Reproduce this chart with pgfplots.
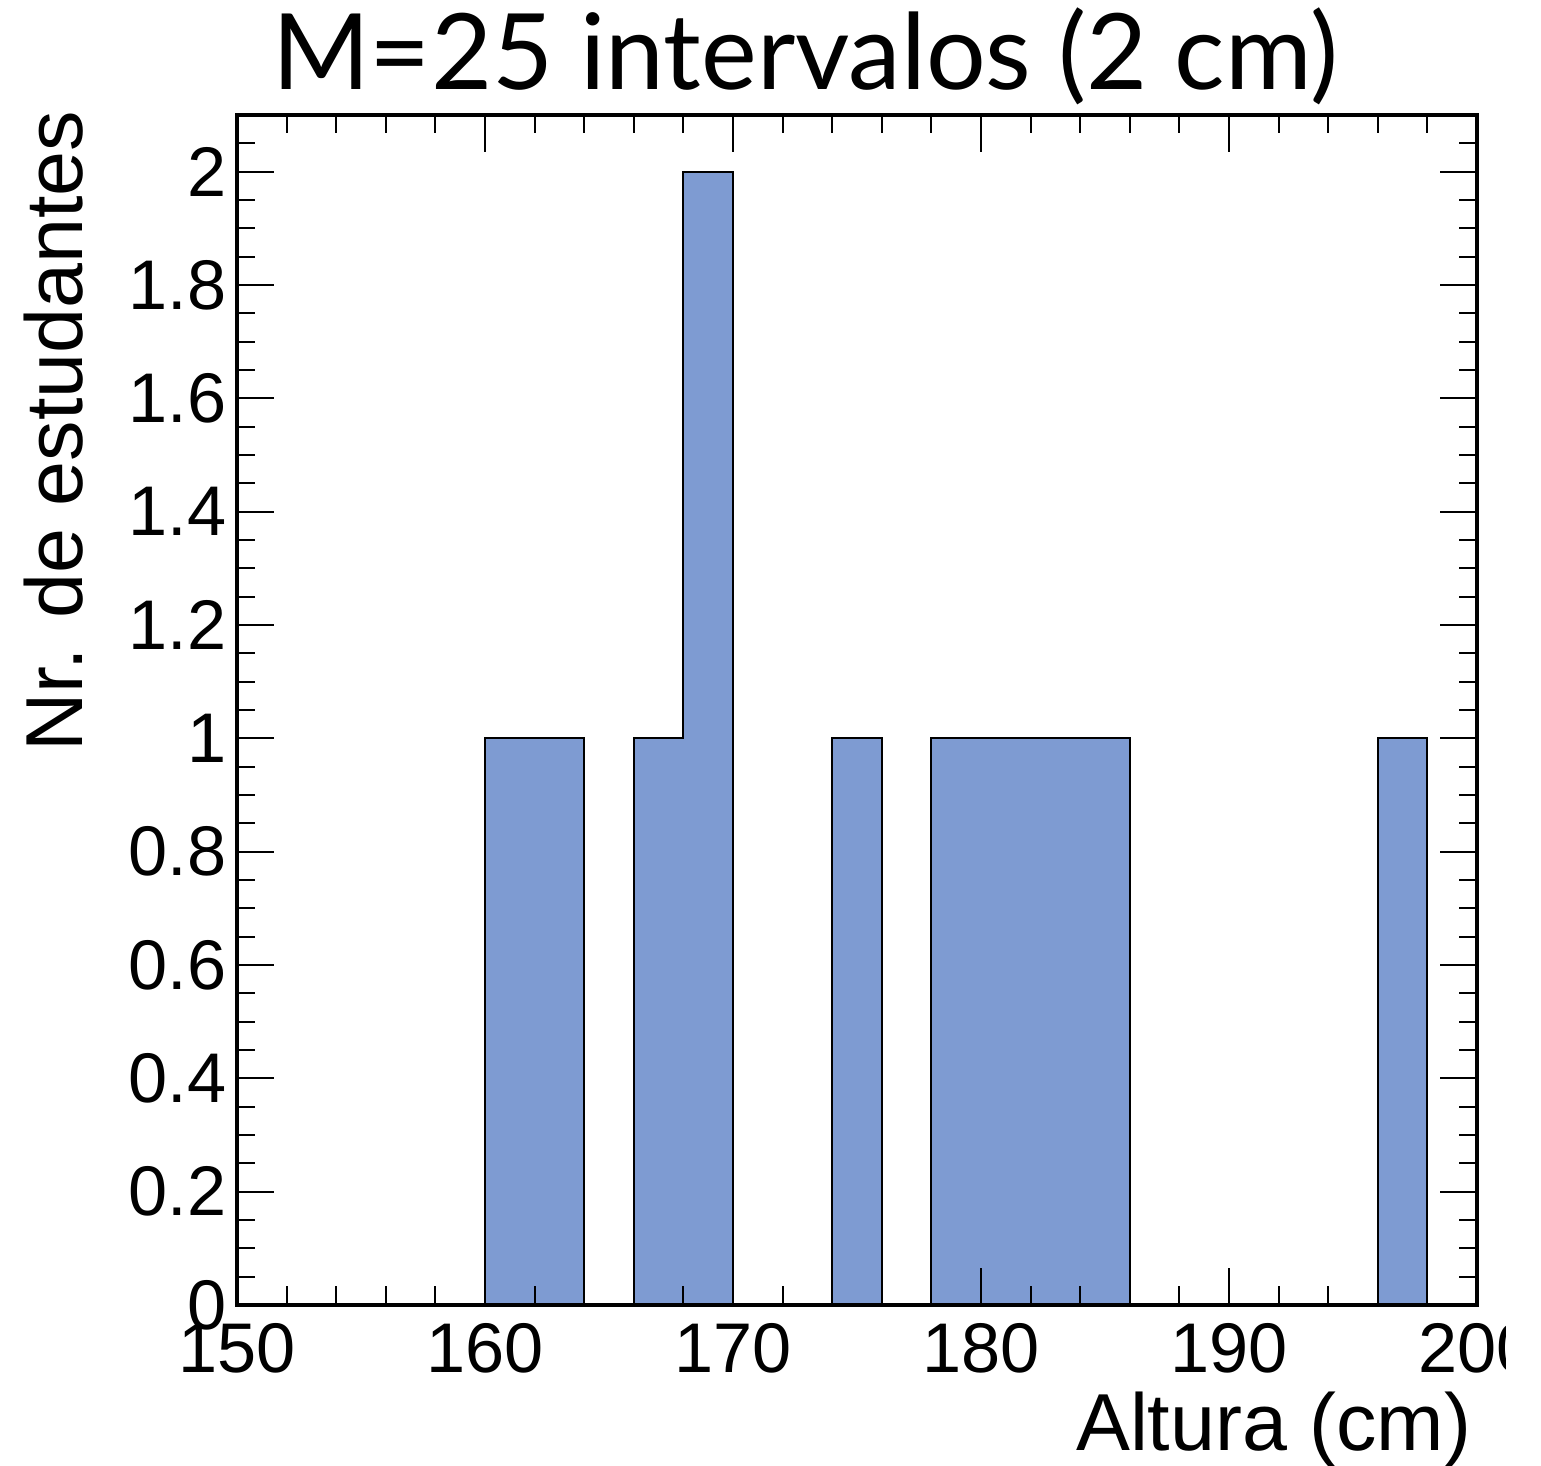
\documentclass[border=0pt]{standalone}
\usepackage{fontspec}
\setmainfont{Liberation Sans}
\newfontfamily\titlefont{Lato}
\usepackage{pgfplots}
\pgfplotsset{compat=1.18}
\definecolor{histfill}{RGB}{126,155,210}
\begin{document}
\begin{tikzpicture}
\useasboundingbox (-23.7mm,-16.1mm) rectangle (130.4mm,130.5mm);
\clip (-23.7mm,-16.1mm) rectangle (126.8mm,130.5mm);
\begin{axis}[
  at={(0,0)}, anchor=origin,
  scale only axis,
  width=124mm, height=119mm,
  xmin=150, xmax=200, ymin=0, ymax=2.1,
  xtick={150,160,...,200},
  minor xtick={150,152,...,200},
  ytick={0,0.2,...,2.01},
  minor ytick={0,0.05,...,2.1},
  major tick length=3.7mm,
  minor tick length=1.85mm,
  tick style={black, line width=0.6pt},
  axis line style={line width=0.9pt},
  /pgf/number format/assume math mode=true,
  ticklabel style={font=\fontsize{20}{24}\selectfont},
  yticklabel style={inner sep=0pt, xshift=-1mm},
  xticklabel style={inner sep=0pt, yshift=-1.8mm},
  yticklabel={\pgfmathprintnumber[fixed,precision=1]{\tick}},
  axis on top,
]
\addplot[const plot, fill=histfill, draw=black, line width=0.6pt] coordinates {
(150,0) (152,0) (154,0) (156,0) (158,0) (160,1) (162,1) (164,0) (166,1) (168,2)
(170,0) (172,0) (174,1) (176,0) (178,1) (180,1) (182,1) (184,1) (186,0) (188,0)
(190,0) (192,0) (194,0) (196,1) (198,0) (200,0)} \closedcycle;
\end{axis}
\node[anchor=base east, font=\fontsize{23}{27}\selectfont, inner sep=0pt] at (123.5mm,-14.5mm) {Altura (cm)};
\node[rotate=90, anchor=base east, font=\fontsize{23}{27}\selectfont, inner sep=0pt] at (-15.4mm,119.5mm) {Nr. de estudantes};
\node[anchor=base, font=\titlefont\fontsize{30}{36}\selectfont, inner sep=0pt] at (56.8mm,121.5mm) {M=25 intervalos (2 cm)};
\end{tikzpicture}
\end{document}
